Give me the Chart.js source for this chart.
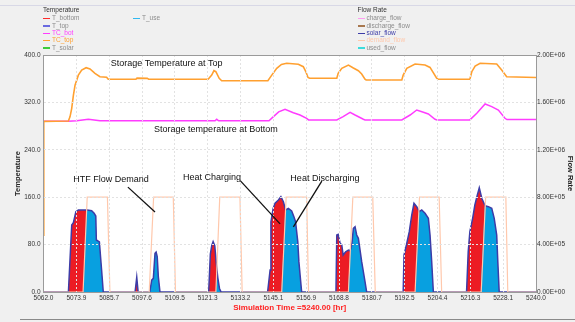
<!DOCTYPE html>
<html>
<head>
<meta charset="utf-8">
<script src="https://cdn.jsdelivr.net/npm/chart.js@4/dist/chart.umd.min.js"></script>
<style>
  html, body { margin: 0; padding: 0; background: #f0f0f0; }
  #wrap { position: relative; width: 575px; height: 322px; overflow: hidden; font-family: "Liberation Sans", Arial, sans-serif; }
  #chart { position: absolute; left: 0; top: 0; }
  .rule { position: absolute; left: 0; height: 1px; }
  .lg { position: absolute; font-size: 6.5px; line-height: 8px; white-space: nowrap; color: #8c8c8c; }
  .lg.title { color: #333; }
  .lg i { display: inline-block; width: 7px; height: 1.5px; vertical-align: middle; margin-right: 2px; }
</style>
</head>
<body>
<div id="wrap">
  <div class="rule" style="top:5px;width:575px;background:#d8d8e6"></div>
  <canvas id="chart" width="575" height="322"></canvas>
  <div class="rule" style="top:319px;left:20px;width:555px;background:#8a8a8a"></div>
</div>
<script>
// axis ticks
const xTicks = [5062.0, 5073.9, 5085.7, 5097.6, 5109.5, 5121.3, 5133.2, 5145.1, 5156.9, 5168.8, 5180.7, 5192.5, 5204.4, 5216.3, 5228.1, 5240.0];
const tempTicks = [0, 80, 160, 240, 320, 400];
const flowTicks = [0, 4e5, 8e5, 1.2e6, 1.6e6, 2e6];

// legend groups
const tempNames = ['T_bottom', 'T_top', 'TC_bot', 'TC_top', 'T_solar', 'T_use'];
const flowNames = ['charge_flow', 'discharge_flow', 'solar_flow', 'demand_flow', 'used_flow'];

// [hour, temperature]
const tcTop = [
  [5062.0, 96], [5062.1, 288], [5071.0, 288.6], [5071.6, 296], [5072.2, 310], [5072.8, 332], [5073.4, 349],
  [5074.6, 366], [5075.8, 374.7], [5077.4, 378.6], [5078.8, 376.4], [5080.6, 369], [5082.4, 363.4],
  [5084.8, 362.4], [5085.4, 359], [5095.4, 359], [5095.8, 361], [5099.5, 360.5], [5100.0, 359],
  [5121.5, 359], [5122.8, 366], [5123.6, 373.5], [5124.3, 371.8], [5125.5, 360.7], [5126.4, 356.6],
  [5143.1, 356.6], [5144.5, 366], [5146.3, 377.5], [5148.0, 384], [5149.9, 386], [5154.1, 384.3],
  [5155.9, 380.3], [5156.8, 372], [5157.6, 362], [5158.2, 360.7], [5168.0, 360.7], [5168.5, 369],
  [5169.8, 377.5], [5172.2, 383], [5174.0, 378], [5175.8, 373.5], [5177.0, 368], [5178.2, 359],
  [5178.6, 357.8], [5191.5, 357.8], [5192.0, 366], [5193.3, 377.5], [5196.3, 384.8], [5199.9, 383],
  [5201.7, 379], [5204.1, 361], [5204.7, 359], [5216.1, 359], [5216.8, 371.8], [5218.0, 381.4],
  [5219.8, 386], [5225.8, 384.8], [5227.6, 374.7], [5229.4, 363.4], [5240.0, 362]
];
const tcBot = [
  [5062.1, 288], [5070.9, 288], [5074.0, 289], [5078.2, 291.5], [5082.4, 289],
  [5124.0, 289], [5124.6, 291.5], [5125.3, 289], [5143.5, 289], [5145.1, 296], [5147.0, 304],
  [5149.3, 308.4], [5152.3, 302.6], [5154.7, 298.7], [5157.1, 293], [5157.8, 290.5], [5168.0, 290.5],
  [5170.3, 296], [5172.8, 303.3], [5174.6, 298.7], [5177.6, 291.5], [5178.2, 290.5], [5191.5, 290.5],
  [5194.5, 298.7], [5196.9, 307.2], [5199.3, 303.3], [5201.1, 300.4], [5203.5, 291.5], [5204.2, 290.5],
  [5216.1, 290.5], [5218.6, 301.6], [5221.6, 317.3], [5224.0, 312.8], [5226.4, 307.2], [5228.8, 293.2],
  [5229.5, 291], [5240.0, 291]
];

// [hour, flow rate]
const demandFlow = [
  [5062.0, 0], [5076.3, 0], [5077.8, 8e5], [5085.1, 8e5], [5086.0, 0],
  [5100.2, 0], [5101.8, 8e5], [5108.9, 8e5], [5109.7, 0],
  [5124.3, 0], [5125.7, 8e5], [5133.0, 8e5], [5133.8, 0],
  [5148.1, 0], [5149.7, 8e5], [5157.1, 8e5], [5157.8, 0],
  [5172.2, 0], [5173.8, 8e5], [5181.0, 8e5], [5181.9, 0],
  [5196.3, 0], [5197.9, 8e5], [5205.0, 8e5], [5205.9, 0],
  [5220.2, 0], [5221.8, 8e5], [5229.1, 8e5], [5229.8, 0], [5240.0, 0]
];
const solarFlow = [
  [5062.0, 0], [5071.0, 0], [5072.2, 5.65e5], [5072.8, 5.85e5], [5073.7, 6.78e5], [5074.6, 6.92e5],
  [5077.8, 6.92e5], [5079.4, 6.86e5], [5080.3, 6.64e5], [5080.9, 6.41e5], [5081.1, 4.39e5],
  [5082.2, 4.22e5], [5083.0, 1.86e5], [5083.6, 0],
  [5095.1, 0], [5095.7, 1.24e5], [5096.2, 0],
  [5100.4, 0], [5101.1, 1.0e5], [5101.7, 1.15e5], [5102.3, 3.26e5], [5102.7, 3.37e5], [5103.1, 2.98e5],
  [5103.5, 1.3e5], [5104.1, 0],
  [5121.7, 0], [5122.3, 3.2e5], [5122.8, 3.9e5], [5123.3, 4.25e5], [5123.9, 3.9e5], [5124.5, 2.3e5],
  [5125.0, 1.2e5], [5125.6, 0.3e5], [5126.2, 0],
  [5143.0, 0], [5143.9, 1.86e5], [5144.2, 5.93e5], [5145.0, 7.06e5], [5145.7, 7.49e5], [5146.9, 7.76e5],
  [5147.8, 8.04e5], [5148.7, 7.62e5], [5149.5, 6.92e5], [5150.5, 7.06e5], [5151.7, 6.84e5],
  [5152.5, 6.36e5], [5153.1, 5.93e5], [5153.9, 4.25e5], [5154.3, 2.56e5], [5155.3, 0],
  [5167.7, 0], [5168.0, 4.81e5], [5168.5, 4.87e5], [5169.2, 4.11e5], [5169.8, 3.97e5], [5170.3, 3.12e5],
  [5171.2, 3.4e5], [5172.2, 3.54e5], [5172.8, 3.46e5], [5173.4, 3.97e5], [5174.0, 5.37e5],
  [5174.6, 5.51e5], [5175.2, 4.81e5], [5175.8, 4.53e5], [5177.0, 2.56e5], [5178.2, 0.87e5], [5178.8, 0],
  [5192.0, 0], [5192.3, 3.12e5], [5193.3, 4.11e5], [5194.2, 5.09e5], [5195.1, 6.5e5], [5195.9, 7.49e5],
  [5196.9, 7.2e5], [5197.8, 6.78e5], [5198.7, 6.92e5], [5199.9, 6.64e5], [5201.1, 6.22e5],
  [5201.7, 4.81e5], [5202.3, 2.56e5], [5202.9, 0],
  [5214.9, 0], [5215.5, 3.4e5], [5216.1, 5.09e5], [5217.1, 6.22e5], [5217.9, 7.34e5], [5218.8, 8.19e5],
  [5219.5, 8.8e5], [5220.4, 7.91e5], [5221.6, 7.28e5], [5222.8, 7.2e5], [5224.0, 7.06e5],
  [5224.9, 6.22e5], [5225.8, 4.81e5], [5226.2, 2.56e5], [5226.7, 0], [5240.0, 0]
];
const usedFlow = [
  [5062.0, 0], [5076.3, 0], [5077.6, 6.92e5], [5077.8, 6.92e5], [5079.4, 6.86e5], [5080.3, 6.64e5],
  [5080.9, 6.41e5], [5081.1, 4.39e5], [5082.2, 4.22e5], [5083.0, 1.86e5], [5083.6, 0],
  [5100.4, 0], [5101.1, 1.0e5], [5101.7, 1.15e5], [5102.3, 3.26e5], [5102.7, 3.37e5], [5103.1, 2.98e5],
  [5103.5, 1.3e5], [5104.1, 0],
  [5124.3, 0], [5124.7, 1.86e5], [5125.0, 1.2e5], [5125.6, 0.3e5], [5126.2, 0],
  [5148.0, 0], [5149.4, 7.0e5], [5149.5, 6.92e5], [5150.5, 7.06e5], [5151.7, 6.84e5], [5152.5, 6.36e5],
  [5153.1, 5.93e5], [5153.9, 4.25e5], [5154.3, 2.56e5], [5155.3, 0],
  [5172.1, 0], [5172.8, 3.46e5], [5173.4, 3.97e5], [5174.0, 5.37e5], [5174.6, 5.51e5], [5175.2, 4.81e5],
  [5175.8, 4.53e5], [5177.0, 2.56e5], [5178.2, 0.87e5], [5178.8, 0],
  [5196.3, 0], [5197.7, 6.8e5], [5197.8, 6.78e5], [5198.7, 6.92e5], [5199.9, 6.64e5], [5201.1, 6.22e5],
  [5201.7, 4.81e5], [5202.3, 2.56e5], [5202.9, 0],
  [5220.0, 0], [5221.5, 7.3e5], [5221.6, 7.28e5], [5222.8, 7.2e5], [5224.0, 7.06e5], [5224.9, 6.22e5],
  [5225.8, 4.81e5], [5226.2, 2.56e5], [5226.7, 0], [5240.0, 0]
];

// text labels on the plot: [text, hour, temperature]
const notes = [
  ['Storage Temperature at Top', 5106.5, 386],
  ['Storage temperature at Bottom', 5124.3, 275],
  ['HTF Flow Demand', 5086.4, 190],
  ['Heat Charging', 5122.9, 194],
  ['Heat Discharging', 5163.7, 190.7]
];
// pointer lines: [hour0, temp0, hour1, temp1]
const pointers = [
  [5092.5, 177, 5102.3, 135],
  [5133.1, 188, 5147.5, 115],
  [5162.6, 187, 5152.3, 110]
];

const colors = {
  T_bottom: '#ff2a2a', T_top: '#6a6ae0', TC_bot: '#ff3cff', TC_top: '#ffa030', T_solar: '#3ccc3c', T_use: '#30b8f0',
  charge_flow: '#ff9cf0', discharge_flow: '#a87850', solar_flow: '#3c3ca8', demand_flow: '#ffc8ac', used_flow: '#3cdcdc'
};
const shown = ['TC_bot', 'TC_top', 'solar_flow', 'demand_flow'];

// legend
const wrap = document.getElementById('wrap');
function legendGroup(title, names, left, colStep) {
  const t = document.createElement('div');
  t.className = 'lg title';
  t.style.left = left + 'px';
  t.style.top = '6px';
  t.textContent = title;
  wrap.appendChild(t);
  names.forEach((name, i) => {
    const d = document.createElement('div');
    d.className = 'lg';
    d.style.left = (left + Math.floor(i / 5) * colStep) + 'px';
    d.style.top = (14.3 + (i % 5) * 7.35) + 'px';
    if (shown.includes(name)) d.style.color = colors[name];
    d.innerHTML = '<i style="background:' + colors[name] + '"></i>' + name;
    wrap.appendChild(d);
  });
}
legendGroup('Temperature', tempNames, 43, 90);
legendGroup('Flow Rate', flowNames, 357.5, 90);

const sci = v => {
  if (v === 0) return '0.00E+00';
  const e = Math.floor(Math.log10(v));
  return (v / Math.pow(10, e)).toFixed(2) + 'E+' + String(e).padStart(2, '0');
};
const pts = arr => arr.map(([x, y]) => ({ x, y }));

const frame = {
  id: 'frame',
  beforeDraw(chart) {
    const { ctx, chartArea: a } = chart;
    ctx.save();
    ctx.fillStyle = '#ffffff';
    ctx.fillRect(a.left, a.top, a.right - a.left, a.bottom - a.top);
    ctx.restore();
  },
  afterDraw(chart) {
    const { ctx, chartArea: a, scales: { x, yT } } = chart;
    ctx.save();
    ctx.strokeStyle = '#9a9a9a';
    ctx.lineWidth = 1;
    ctx.beginPath();
    ctx.moveTo(a.left, Math.round(a.top) + 0.5);
    ctx.lineTo(a.right, Math.round(a.top) + 0.5);
    ctx.stroke();

    ctx.font = '9px "Liberation Sans", Arial, sans-serif';
    ctx.fillStyle = '#111';
    ctx.textAlign = 'center';
    ctx.textBaseline = 'middle';
    notes.forEach(([text, h, t]) => ctx.fillText(text, x.getPixelForValue(h), yT.getPixelForValue(t)));

    ctx.strokeStyle = '#111';
    ctx.lineWidth = 1.3;
    pointers.forEach(([h0, t0, h1, t1]) => {
      ctx.beginPath();
      ctx.moveTo(x.getPixelForValue(h0), yT.getPixelForValue(t0));
      ctx.lineTo(x.getPixelForValue(h1), yT.getPixelForValue(t1));
      ctx.stroke();
    });
    ctx.restore();
  }
};

Chart.defaults.font.family = '"Liberation Sans", Arial, sans-serif';

new Chart(document.getElementById('chart'), {
  type: 'line',
  data: {
    datasets: [
      { label: 'TC_top', data: pts(tcTop), yAxisID: 'yT', borderColor: colors.TC_top, borderWidth: 1.6, pointRadius: 0, fill: false, order: 0 },
      { label: 'TC_bot', data: pts(tcBot), yAxisID: 'yT', borderColor: colors.TC_bot, borderWidth: 1.5, pointRadius: 0, fill: false, order: 1 },
      { label: 'demand_flow', data: pts(demandFlow), yAxisID: 'yF', borderColor: colors.demand_flow, borderWidth: 1.2, pointRadius: 0, fill: false, order: 2 },
      { label: 'used_flow', data: pts(usedFlow), yAxisID: 'yF', borderColor: 'rgba(0,0,0,0)', borderWidth: 0, backgroundColor: '#08a0e0', pointRadius: 0, fill: 'origin', order: 3 },
      { label: 'solar_flow', data: pts(solarFlow), yAxisID: 'yF', borderColor: colors.solar_flow, borderWidth: 1.5, backgroundColor: '#ec1c24', pointRadius: 0, fill: 'origin', order: 4 }
    ]
  },
  options: {
    responsive: false,
    animation: false,
    devicePixelRatio: 1,
    layout: { padding: { top: 55, left: 0, right: 0, bottom: 0 } },
    plugins: {
      legend: { display: false },
      tooltip: { enabled: false },
      filler: { drawTime: 'beforeDatasetsDraw' }
    },
    scales: {
      x: {
        type: 'linear',
        min: 5062,
        max: 5240,
        afterBuildTicks: s => { s.ticks = xTicks.map(v => ({ value: v })); },
        afterFit: s => { s.height = 30; },
        ticks: { autoSkip: false, maxRotation: 0, padding: 2, color: '#333', font: { size: 6.5 }, callback: v => v.toFixed(1) },
        grid: { color: '#e2e2e2', drawTicks: false, z: 1 },
        border: { color: '#9a9a9a', dash: [2, 2], z: 2 },
        title: { display: true, text: 'Simulation Time =5240.00 [hr]', color: '#ff2020', font: { size: 8, weight: 'bold' }, padding: { top: 0, bottom: 9 } }
      },
      yT: {
        position: 'left',
        min: 0,
        max: 400,
        afterBuildTicks: s => { s.ticks = tempTicks.map(v => ({ value: v })); },
        afterFit: s => { s.width = 43.5; },
        ticks: { padding: 3, color: '#333', font: { size: 6.5 }, callback: v => v.toFixed(1) },
        grid: { color: '#e2e2e2', drawTicks: false, z: 1 },
        border: { color: '#9a9a9a', dash: [2, 2], z: 2 },
        title: { display: true, text: 'Temperature', color: '#222', font: { size: 7.5, weight: 'bold' }, padding: { top: 13.5, bottom: 0 } }
      },
      yF: {
        position: 'right',
        min: 0,
        max: 2e6,
        afterBuildTicks: s => { s.ticks = flowTicks.map(v => ({ value: v })); },
        afterFit: s => { s.width = 39; },
        ticks: { padding: 1, color: '#333', font: { size: 6.5 }, callback: v => sci(v) },
        grid: { display: false, drawTicks: false },
        border: { color: '#9a9a9a', z: 2 },
        title: { display: true, text: 'Flow Rate', color: '#222', font: { size: 7.5, weight: 'bold' }, padding: { top: 0, bottom: 0 } }
      }
    }
  },
  plugins: [frame]
});
</script>
</body>
</html>
